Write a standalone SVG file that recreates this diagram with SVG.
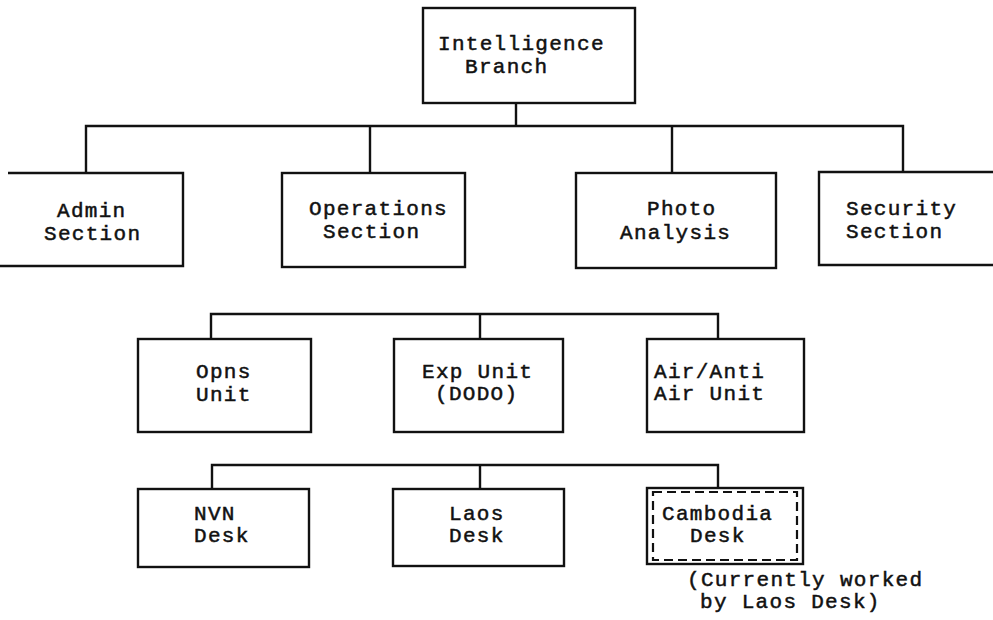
<svg xmlns="http://www.w3.org/2000/svg" width="993" height="620" viewBox="0 0 993 620">
<style>
.box{fill:none;stroke:#111;stroke-width:2.4;stroke-linejoin:miter}
.dash{fill:none;stroke:#111;stroke-width:2.2;stroke-dasharray:9 5}
.conn{fill:none;stroke:#111;stroke-width:2.4}
text{font-family:"Liberation Mono","DejaVu Sans Mono",monospace;font-size:21px;letter-spacing:1.3px;fill:#111;stroke:#111;stroke-width:0.5}
</style>
<rect width="993" height="620" fill="#fff"/>
<g id="connectors">
<path class="conn" d="M516,103 V126"/>
<path class="conn" d="M86,173 V126 H903 V172"/>
<path class="conn" d="M370,173 V126"/>
<path class="conn" d="M672,173 V126"/>
<path class="conn" d="M211,339 V314 H718 V339"/>
<path class="conn" d="M480,314 V339"/>
<path class="conn" d="M212,489 V465 H718 V488"/>
<path class="conn" d="M480,465 V489"/>
</g>
<g id="intelligence-branch">
<rect class="box" x="423" y="8" width="212" height="95"/>
<text x="438" y="50">Intelligence</text>
<text x="465" y="73">Branch</text>
</g>
<g id="admin-section">
<path class="box" d="M8,173 H183 V266 H0"/>
<text x="57" y="217">Admin</text>
<text x="44" y="240">Section</text>
</g>
<g id="operations-section">
<rect class="box" x="282" y="173" width="183" height="94"/>
<text x="309" y="215">Operations</text>
<text x="323" y="238">Section</text>
</g>
<g id="photo-analysis">
<rect class="box" x="576" y="173" width="200" height="95"/>
<text x="647" y="215">Photo</text>
<text x="620" y="239">Analysis</text>
</g>
<g id="security-section">
<path class="box" d="M995,172 H819 V265 H995"/>
<text x="846" y="215">Security</text>
<text x="846" y="238">Section</text>
</g>
<g id="opns-unit">
<rect class="box" x="138" y="339" width="173" height="93"/>
<text x="196" y="378">Opns</text>
<text x="196" y="401">Unit</text>
</g>
<g id="exp-unit">
<rect class="box" x="394" y="339" width="169" height="93"/>
<text x="422" y="378">Exp Unit</text>
<text x="435" y="400">(DODO)</text>
</g>
<g id="air-anti-air-unit">
<rect class="box" x="647" y="339" width="157" height="93"/>
<text x="654" y="378">Air/Anti</text>
<text x="654" y="400">Air Unit</text>
</g>
<g id="nvn-desk">
<rect class="box" x="138" y="489" width="171" height="78"/>
<text x="194" y="520">NVN</text>
<text x="194" y="542">Desk</text>
</g>
<g id="laos-desk">
<rect class="box" x="393" y="489" width="171" height="77"/>
<text x="449" y="520">Laos</text>
<text x="449" y="542">Desk</text>
</g>
<g id="cambodia-desk">
<rect class="box" x="647" y="488" width="156" height="76"/>
<rect class="dash" x="653" y="492" width="144" height="68"/>
<text x="662" y="520">Cambodia</text>
<text x="690" y="542">Desk</text>
</g>
<g id="note">
<text x="687" y="586">(Currently worked</text>
<text x="700" y="608">by Laos Desk)</text>
</g>
</svg>
